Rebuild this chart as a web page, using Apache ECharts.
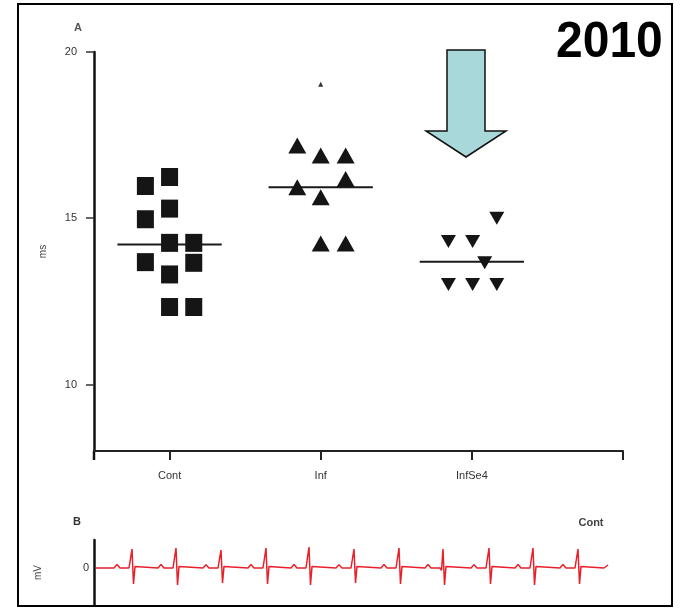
<!DOCTYPE html>
<html>
<head>
<meta charset="utf-8">
<script src="https://cdn.jsdelivr.net/npm/echarts@6/dist/echarts.min.js"></script>
<style>
html,body{margin:0;padding:0;background:#fff;}
#c{width:687px;height:610px;}
</style>
</head>
<body>
<div id="c"></div>
<script>
// ---- data ----
const categories = ['Cont', 'Inf', 'InfSe4'];
const yTicks = [10, 15, 20];

const contJitter = [-0.16, -0.16, -0.16, 0, 0, 0, 0, 0, 0.16, 0.16, 0.16];
const contValues = [15.97, 14.97, 13.68, 16.24, 15.29, 14.26, 13.31, 12.33, 14.26, 13.66, 12.33];

const infJitter = [-0.155, 0, 0.165, -0.155, 0.165, 0, 0, 0.165];
const infValues = [17.19, 16.89, 16.89, 15.93, 16.18, 15.63, 14.24, 14.24];
const infOutlierValues = [19.03];

const infSe4Jitter = [0.165, -0.155, 0.005, 0.085, -0.155, 0.005, 0.165];
const infSe4Values = [15.0, 14.3, 14.3, 13.66, 13.01, 13.01, 13.01];

const groupMeans = [14.21, 15.93, 13.69];

// ECG trace (time units, mV)
const ecgTrace = [
  [2,0],
  [20,0],[23,0.18],[26,0],[35,0],[36.5,-0.1],[38,0.95],[39.5,-0.8],[41,0.08],[43,0],
  [64,0],[67,0.18],[70,0],[79,0],[80.5,-0.1],[82,1.0],[83.5,-0.85],[85,0.08],[87,0],
  [109,0],[112,0.16],[115,0],[124,0],[125.5,-0.1],[127,0.9],[128.5,-0.75],[130,0.08],[132,0],
  [154,0],[157,0.18],[160,0],[169,0],[170.5,-0.1],[172,1.0],[173.5,-0.8],[175,0.08],[177,0],
  [197,0],[200,0.18],[203,0],[212,0],[213.5,-0.1],[215,1.05],[216.5,-0.85],[218,0.08],[220,0],
  [242,0],[245,0.16],[248,0],[257,0],[258.5,-0.1],[260,0.95],[261.5,-0.75],[263,0.08],[265,0],
  [287,0],[290,0.18],[293,0],[302,0],[303.5,-0.1],[305,1.0],[306.5,-0.8],[308,0.08],[310,0],
  [331,0],[334,0.18],[337,0],[346,0],[347.5,-0.12],[349,0.95],[350.5,-0.85],[352,0.08],[354,0],
  [377,0],[380,0.16],[383,0],[392,0],[393.5,-0.1],[395,1.0],[396.5,-0.8],[398,0.08],[400,0],
  [421,0],[424,0.18],[427,0],[436,0],[437.5,-0.1],[439,1.0],[440.5,-0.85],[442,0.08],[444,0],
  [466,0],[469,0.18],[472,0],[481,0],[482.5,-0.1],[484,0.95],[485.5,-0.8],[487,0.08],[489,0],
  [510,0],[514,0.15]
];

// ---- build ----
function pts(groupIdx, jitter, values) {
  return values.map((v, i) => [groupIdx + 1 + jitter[i], v]);
}
const meanHalf = 0.345;
const meanSeries = groupMeans.map((m, i) => ({
  type: 'line', xAxisIndex: 0, yAxisIndex: 0,
  data: [[i + 1 - meanHalf, m], [i + 1 + meanHalf, m]],
  symbol: 'none', lineStyle: { color: '#1a1a1a', width: 2 }, z: 3, silent: true
}));

const txt = '#333';
const font = 'Liberation Sans, Arial, sans-serif';
const mark = { color: '#151515', opacity: 1 };

const chart = echarts.init(document.getElementById('c'), null, { renderer: 'canvas' });
chart.setOption({
  animation: false,
  backgroundColor: '#fff',
  textStyle: { fontFamily: font },
  grid: [
    { left: 94, top: 52, width: 529, height: 399 },
    { left: 94, top: 540, width: 520, height: 65 }
  ],
  xAxis: [
    {
      gridIndex: 0, type: 'value', min: 0.5, max: 4,
      axisLine: { show: true, lineStyle: { color: '#222', width: 2 } },
      axisTick: { show: true, customValues: [1, 2, 3, 4], length: 9, lineStyle: { color: '#222', width: 2 } },
      axisLabel: {
        customValues: [1, 2, 3], margin: 19, color: txt, fontSize: 11, fontFamily: font,
        formatter: v => categories[Math.round(v) - 1] || ''
      },
      splitLine: { show: false }
    },
    { gridIndex: 1, type: 'value', min: 0, max: 520, show: false }
  ],
  yAxis: [
    {
      gridIndex: 0, type: 'value', min: 8, max: 20,
      name: 'ms', nameLocation: 'middle', nameGap: 46, nameRotate: 90,
      nameTextStyle: { color: '#444', fontSize: 10, fontFamily: font },
      axisLine: { show: true, lineStyle: { color: '#111', width: 2.5 } },
      axisTick: { show: true, customValues: yTicks, length: 8, lineStyle: { color: '#333', width: 1.5 } },
      axisLabel: { customValues: yTicks, margin: 17, color: txt, fontSize: 11, fontFamily: font },
      splitLine: { show: false }
    },
    {
      gridIndex: 1, type: 'value', min: -1.85, max: 1.4,
      name: 'mV', nameLocation: 'middle', nameGap: 51, nameRotate: 90,
      nameTextStyle: { color: '#444', fontSize: 10, fontFamily: font },
      axisLine: { show: true, lineStyle: { color: '#111', width: 2.5 } },
      axisTick: { show: false },
      axisLabel: { customValues: [0], margin: 5, color: txt, fontSize: 11, fontFamily: font },
      splitLine: { show: false }
    }
  ],
  series: [
    {
      type: 'scatter', name: 'Cont', xAxisIndex: 0, yAxisIndex: 0,
      data: pts(0, contJitter, contValues),
      symbol: 'rect', symbolSize: [17, 18], itemStyle: mark, z: 4
    },
    {
      type: 'scatter', name: 'Inf', xAxisIndex: 0, yAxisIndex: 0,
      data: pts(1, infJitter, infValues),
      symbol: 'triangle', symbolSize: [18, 16], itemStyle: mark, z: 4
    },
    {
      type: 'scatter', name: 'Inf outlier', xAxisIndex: 0, yAxisIndex: 0,
      data: infOutlierValues.map(v => [2, v]),
      symbol: 'triangle', symbolSize: [5, 5], itemStyle: { color: '#333', opacity: 1 }, z: 4
    },
    {
      type: 'scatter', name: 'InfSe4', xAxisIndex: 0, yAxisIndex: 0,
      data: pts(2, infSe4Jitter, infSe4Values),
      symbol: 'triangle', symbolRotate: 180, symbolSize: [15, 13], itemStyle: mark, z: 4
    },
    ...meanSeries,
    {
      type: 'line', name: 'ECG', xAxisIndex: 1, yAxisIndex: 1,
      data: ecgTrace, symbol: 'none',
      lineStyle: { color: '#e8202a', width: 1.5 }, silent: true
    }
  ],
  graphic: [
    {
      type: 'rect', shape: { x: 18, y: 4, width: 654, height: 602 },
      style: { fill: 'none', stroke: '#000', lineWidth: 2 }, z: 10
    },
    {
      type: 'polygon',
      shape: { points: [[447, 50], [485, 50], [485, 131], [506, 131], [466, 157], [426, 131], [447, 131]] },
      style: { fill: '#a9d8db', stroke: '#111', lineWidth: 1.5 }, z: 5
    },
    {
      type: 'text', x: 556, y: 43, scaleY: 1.05, originY: 0,
      style: { text: '2010', fill: '#000', font: 'bold 48px "Liberation Sans", Arial, sans-serif', align: 'left', verticalAlign: 'middle' }, z: 10
    },
    {
      type: 'text', x: 78, y: 28,
      style: { text: 'A', fill: '#555', font: 'bold 11px "Liberation Sans", Arial, sans-serif', align: 'center', verticalAlign: 'middle' }
    },
    {
      type: 'text', x: 77, y: 522,
      style: { text: 'B', fill: '#333', font: 'bold 11px "Liberation Sans", Arial, sans-serif', align: 'center', verticalAlign: 'middle' }
    },
    {
      type: 'text', x: 591, y: 523,
      style: { text: 'Cont', fill: '#444', font: 'bold 11px "Liberation Sans", Arial, sans-serif', align: 'center', verticalAlign: 'middle' }
    },
    {
      type: 'line', shape: { x1: 94, y1: 451, x2: 94, y2: 460 },
      style: { stroke: '#111', lineWidth: 2.5 }
    }
  ]
});
</script>
</body>
</html>
